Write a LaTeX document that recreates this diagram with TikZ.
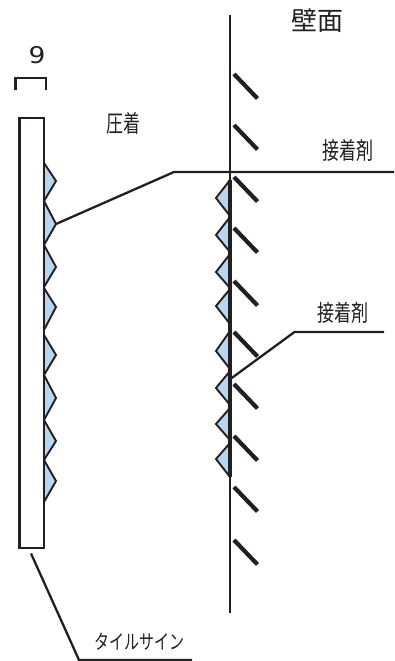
\documentclass[tikz,border=0pt]{standalone}
\usepackage{fontspec}
\setmainfont{DejaVu Sans}
\newfontfamily\jpfont{Noto Sans CJK JP}
\definecolor{glue}{RGB}{184,214,240}
\definecolor{ink}{RGB}{35,31,32}
\tikzset{
  toothshape/.style={draw=ink,fill=glue,line width=1.9pt,line join=miter},
  tile/.style={draw=ink,fill=white,line width=2.8pt},
  wall/.style={draw=ink,line width=2.4pt},
  anchorbar/.style={draw=ink,line width=4.2pt},
  leader/.style={draw=ink,line width=2.3pt},
  lab/.style={inner sep=0pt,text=ink,font=\jpfont},
}
\begin{document}
\begin{tikzpicture}[x=1pt,y=-1pt]
\useasboundingbox (0,0) rectangle (394,661);
% tile teeth
\foreach \a/\b/\c in {163/181/201,201/224/245,245/267/287,288/307/330,335/355/375,375/398/420,420/441/460,460/481/502}
  \draw[toothshape] (44,\a) -- (56,\b) -- (44,\c) -- cycle;
% tile
\draw[tile] (19.5,118) rectangle (44,548);
% wall teeth
\foreach \a/\b/\c in {180/198/216,217/235/252,254/272/288,289/306/324,331/351/369,371/388/405,408/424/440,443/459/477}
  \draw[toothshape] (230,\a) -- (216,\b) -- (230,\c) -- cycle;
% wall
\draw[wall] (230,15) -- (230,613);
\draw[draw=ink,line width=3.6pt] (229.7,180) -- (229.7,477);
% anchors
\foreach \y in {74,125,177,228,281,332,384,436,487,540}
  \draw[anchorbar] (234,\y) -- (257.5,\y+24.5);
% bracket
\draw[draw=ink,line width=2.4pt] (15.5,90) -- (15.5,78) -- (46,78) -- (46,90);
% labels
\node[inner sep=0pt,text=ink,font=\fontsize{23}{23}\selectfont] (nine) at (37,55.5) {\scalebox{1.15}[1]{9}};
\node[lab,font=\jpfont\fontsize{17}{17}\selectfont] (press) at (123,123) {\scalebox{1}[1.4]{圧着}};
\node[lab,font=\jpfont\fontsize{26}{26}\selectfont] (wallface) at (317,21) {壁面};
\node[lab,font=\jpfont\fontsize{17}{17}\selectfont] (gluea) at (348,150.5) {\scalebox{1}[1.4]{接着剤}};
\node[lab,font=\jpfont\fontsize{17}{17}\selectfont] (glueb) at (343,312.5) {\scalebox{1}[1.35]{接着剤}};
\node[lab,font=\jpfont\fontsize{15}{15}\selectfont] (sign) at (139,642) {\scalebox{1}[1.35]{タイルサイン}};
% leaders
\coordinate (t1) at (56,224);
\coordinate (t2) at (174,172);
\coordinate (t3) at (394,172);
\draw[leader,line join=miter] (t1) -- (t2) -- (t3);
\coordinate (u1) at (229,380);
\coordinate (u2) at (294.5,332);
\coordinate (u3) at (384,332);
\draw[leader] (u1) -- (u2) -- (u3);
\coordinate (v1) at (31,553.5);
\coordinate (v2) at (79,660);
\coordinate (v3) at (192,660);
\draw[leader] (v1) -- (v2) -- (v3);
\end{tikzpicture}
\end{document}
